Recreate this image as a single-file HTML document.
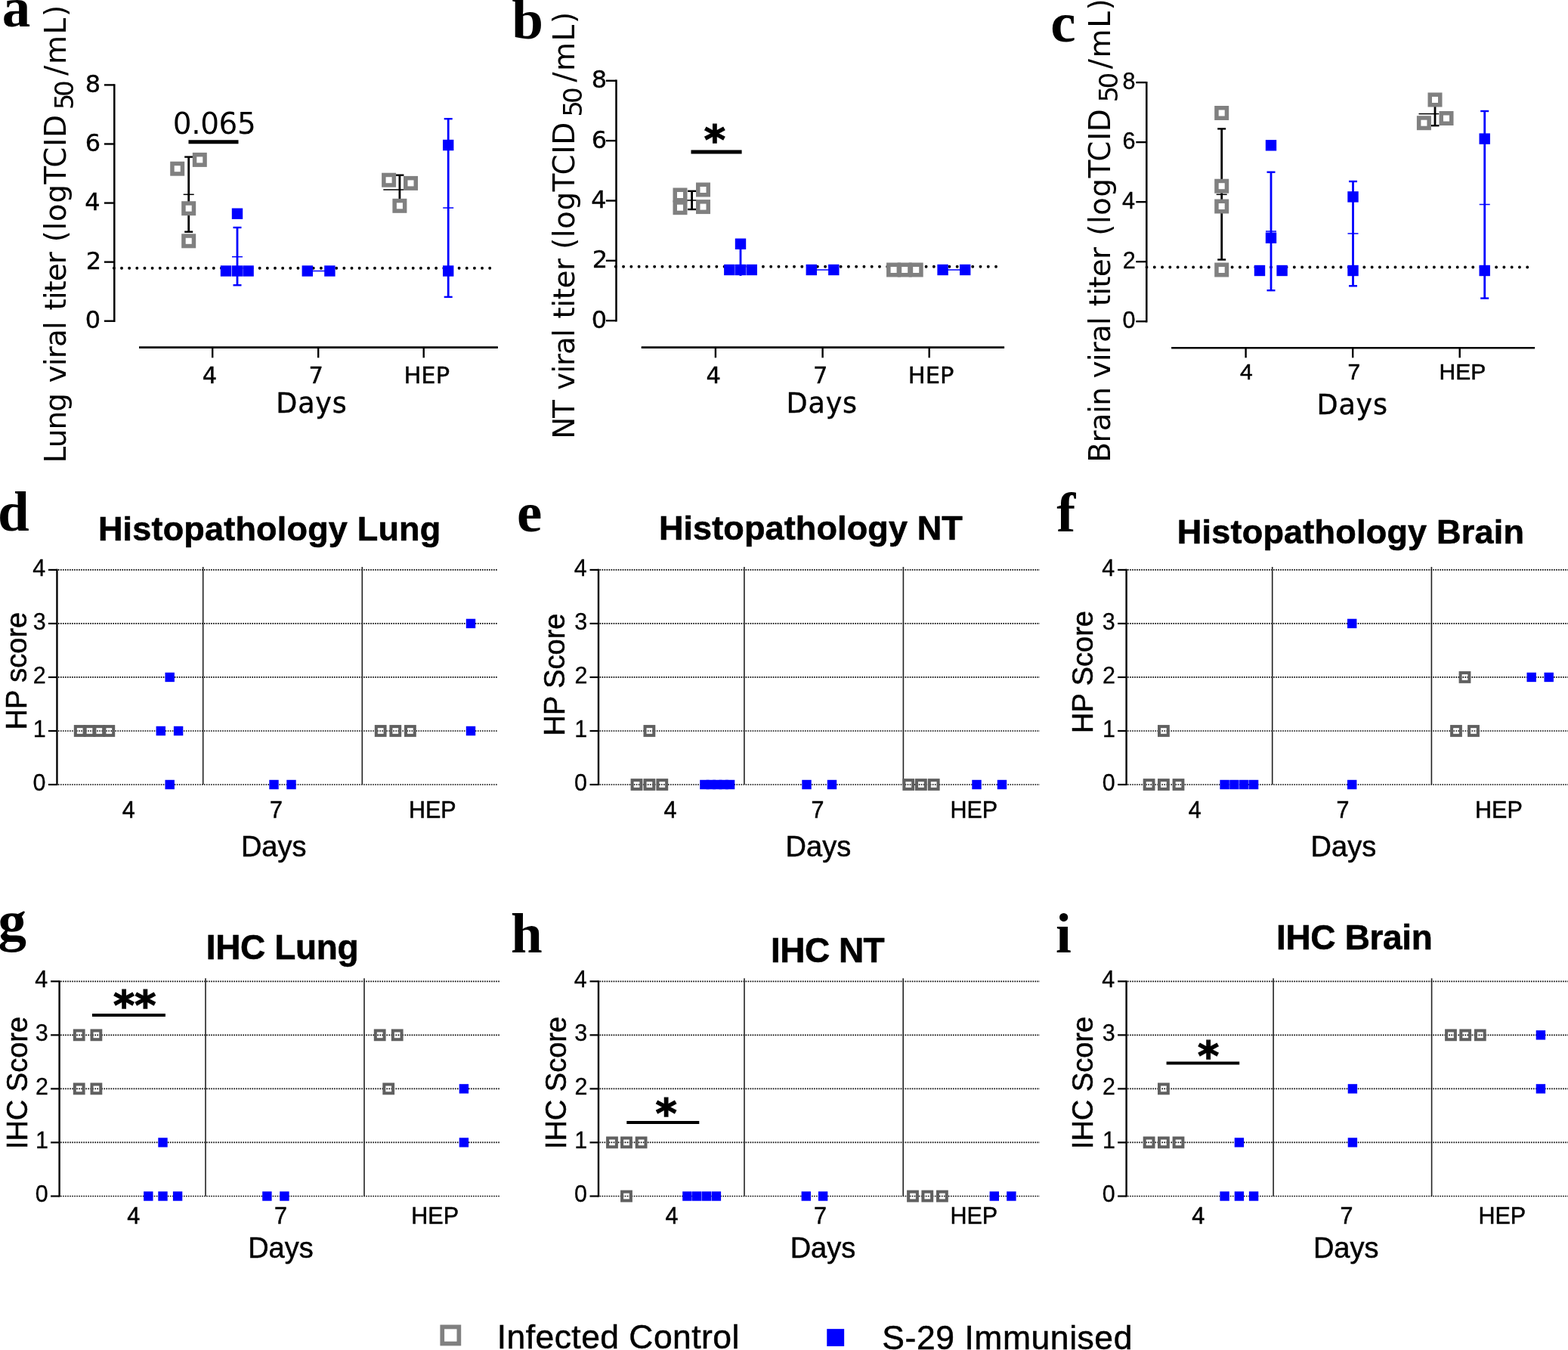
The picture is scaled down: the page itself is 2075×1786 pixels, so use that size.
<!DOCTYPE html>
<html lang="en"><head><meta charset="utf-8"><title>Figure</title>
<style>
html,body{margin:0;padding:0;background:#fff;}
body{width:2075px;height:1786px;overflow:hidden;}
svg{display:block;}
text{fill:#000;white-space:pre;}
.dj{font-family:"DejaVu Sans","Liberation Sans",sans-serif;}
.ls{font-family:"Liberation Sans","DejaVu Sans",sans-serif;}
.ser{font-family:"Liberation Serif","DejaVu Serif",serif;}
.b{font-weight:bold;}
</style></head><body>
<svg width="2075" height="1786" viewBox="0 0 2075 1786" role="img" aria-label="Viral titers, histopathology and IHC scores">
<rect width="2075" height="1786" fill="#fff"/>
<text x="2.73" y="35.45" font-size="75" text-anchor="start" class="ser b" >a</text>
<line x1="151.30" y1="111.20" x2="151.30" y2="425.90" stroke="#000" stroke-width="2.5" />
<line x1="137.90" y1="424.70" x2="151.30" y2="424.70" stroke="#000" stroke-width="2.4" />
<text x="112.70" y="433.80" font-size="32" text-anchor="start" class="dj" stroke="#000" stroke-width="0.35" >0</text>
<line x1="137.90" y1="346.62" x2="151.30" y2="346.62" stroke="#000" stroke-width="2.4" />
<text x="113.74" y="355.73" font-size="32" text-anchor="start" class="dj" stroke="#000" stroke-width="0.35" >2</text>
<line x1="137.90" y1="268.55" x2="151.30" y2="268.55" stroke="#000" stroke-width="2.4" />
<text x="112.35" y="277.65" font-size="32" text-anchor="start" class="dj" stroke="#000" stroke-width="0.35" >4</text>
<line x1="137.90" y1="190.48" x2="151.30" y2="190.48" stroke="#000" stroke-width="2.4" />
<text x="112.63" y="199.58" font-size="32" text-anchor="start" class="dj" stroke="#000" stroke-width="0.35" >6</text>
<line x1="137.90" y1="112.40" x2="151.30" y2="112.40" stroke="#000" stroke-width="2.4" />
<text x="112.81" y="121.50" font-size="32" text-anchor="start" class="dj" stroke="#000" stroke-width="0.35" >8</text>
<line x1="184.00" y1="459.60" x2="658.90" y2="459.60" stroke="#000" stroke-width="2.6" />
<line x1="281.20" y1="459.60" x2="281.20" y2="473.30" stroke="#000" stroke-width="2.4" />
<line x1="421.20" y1="459.60" x2="421.20" y2="473.30" stroke="#000" stroke-width="2.4" />
<line x1="560.70" y1="459.60" x2="560.70" y2="473.30" stroke="#000" stroke-width="2.4" />
<text x="267.75" y="506.60" font-size="30.5" text-anchor="start" class="dj" stroke="#000" stroke-width="0.4" >4</text>
<text x="408.42" y="506.60" font-size="30.5" text-anchor="start" class="dj" stroke="#000" stroke-width="0.4" >7</text>
<text x="534.44" y="506.60" font-size="30.5" text-anchor="start" class="dj" stroke="#000" stroke-width="0.4" >HEP</text>
<text x="365.18" y="545.70" font-size="36.5" text-anchor="start" class="dj" letter-spacing="0.849" stroke="#000" stroke-width="0.4" >Days</text>
<text transform="translate(86.60 612.53) rotate(-90)" font-size="39" text-anchor="start" class="dj" letter-spacing="-0.858" >Lung</text>
<text transform="translate(86.60 506.46) rotate(-90)" font-size="39" text-anchor="start" class="dj" letter-spacing="-0.835" >viral</text>
<text transform="translate(86.60 410.56) rotate(-90)" font-size="39" text-anchor="start" class="dj" letter-spacing="-1.037" >titer</text>
<text transform="translate(86.60 320.19) rotate(-90)" font-size="39" text-anchor="start" class="dj" letter-spacing="0.471" >(logTCID</text>
<text transform="translate(86.60 99.90) rotate(-90)" font-size="39" text-anchor="start" class="dj" letter-spacing="1.676" >/mL)</text>
<text transform="translate(96.80 145.36) rotate(-90)" font-size="34.4" text-anchor="start" class="dj" letter-spacing="-4.502" >50</text>
<line x1="150.85" y1="354.70" x2="648.30" y2="354.70" stroke="#000" stroke-width="3.9" stroke-dasharray="0.01 10.140" stroke-linecap="round"/>
<text x="677.25" y="51.33" font-size="75" text-anchor="start" class="ser b" >b</text>
<line x1="815.50" y1="105.60" x2="815.50" y2="425.40" stroke="#000" stroke-width="2.5" />
<line x1="801.85" y1="424.20" x2="815.50" y2="424.20" stroke="#000" stroke-width="2.4" />
<text x="782.70" y="433.80" font-size="32" text-anchor="start" class="dj" stroke="#000" stroke-width="0.35" >0</text>
<line x1="801.85" y1="344.85" x2="815.50" y2="344.85" stroke="#000" stroke-width="2.4" />
<text x="783.74" y="354.45" font-size="32" text-anchor="start" class="dj" stroke="#000" stroke-width="0.35" >2</text>
<line x1="801.85" y1="265.50" x2="815.50" y2="265.50" stroke="#000" stroke-width="2.4" />
<text x="782.35" y="275.10" font-size="32" text-anchor="start" class="dj" stroke="#000" stroke-width="0.35" >4</text>
<line x1="801.85" y1="186.15" x2="815.50" y2="186.15" stroke="#000" stroke-width="2.4" />
<text x="782.63" y="195.75" font-size="32" text-anchor="start" class="dj" stroke="#000" stroke-width="0.35" >6</text>
<line x1="801.85" y1="106.80" x2="815.50" y2="106.80" stroke="#000" stroke-width="2.4" />
<text x="782.81" y="116.40" font-size="32" text-anchor="start" class="dj" stroke="#000" stroke-width="0.35" >8</text>
<line x1="848.70" y1="459.60" x2="1329.10" y2="459.60" stroke="#000" stroke-width="2.6" />
<line x1="946.90" y1="459.60" x2="946.90" y2="473.30" stroke="#000" stroke-width="2.4" />
<line x1="1088.60" y1="459.60" x2="1088.60" y2="473.30" stroke="#000" stroke-width="2.4" />
<line x1="1229.70" y1="459.60" x2="1229.70" y2="473.30" stroke="#000" stroke-width="2.4" />
<text x="934.45" y="506.70" font-size="30.5" text-anchor="start" class="dj" stroke="#000" stroke-width="0.4" >4</text>
<text x="1075.92" y="506.70" font-size="30.5" text-anchor="start" class="dj" stroke="#000" stroke-width="0.4" >7</text>
<text x="1201.74" y="506.70" font-size="30.5" text-anchor="start" class="dj" stroke="#000" stroke-width="0.4" >HEP</text>
<text x="1040.58" y="546.00" font-size="36.5" text-anchor="start" class="dj" letter-spacing="0.816" stroke="#000" stroke-width="0.4" >Days</text>
<text transform="translate(760.10 580.73) rotate(-90)" font-size="39" text-anchor="start" class="dj" letter-spacing="-1.361" >NT</text>
<text transform="translate(760.10 515.96) rotate(-90)" font-size="39" text-anchor="start" class="dj" letter-spacing="-0.960" >viral</text>
<text transform="translate(760.10 421.46) rotate(-90)" font-size="39" text-anchor="start" class="dj" letter-spacing="-0.512" >titer</text>
<text transform="translate(760.10 329.79) rotate(-90)" font-size="39" text-anchor="start" class="dj" letter-spacing="0.428" >(logTCID</text>
<text transform="translate(760.10 108.80) rotate(-90)" font-size="39" text-anchor="start" class="dj" letter-spacing="1.610" >/mL)</text>
<text transform="translate(770.20 154.76) rotate(-90)" font-size="34.4" text-anchor="start" class="dj" letter-spacing="-4.102" >50</text>
<line x1="814.80" y1="352.80" x2="1318.13" y2="352.80" stroke="#000" stroke-width="3.9" stroke-dasharray="0.01 10.260" stroke-linecap="round"/>
<text x="1390.30" y="54.53" font-size="75" text-anchor="start" class="ser b" >c</text>
<line x1="1517.30" y1="107.90" x2="1517.30" y2="426.40" stroke="#000" stroke-width="2.5" />
<line x1="1503.30" y1="425.20" x2="1517.30" y2="425.20" stroke="#000" stroke-width="2.4" />
<text x="1485.46" y="433.90" font-size="30.6" text-anchor="start" class="ls" stroke="#000" stroke-width="0.35" >0</text>
<line x1="1503.30" y1="346.17" x2="1517.30" y2="346.17" stroke="#000" stroke-width="2.4" />
<text x="1485.74" y="354.87" font-size="30.6" text-anchor="start" class="ls" stroke="#000" stroke-width="0.35" >2</text>
<line x1="1503.30" y1="267.15" x2="1517.30" y2="267.15" stroke="#000" stroke-width="2.4" />
<text x="1485.07" y="275.85" font-size="30.6" text-anchor="start" class="ls" stroke="#000" stroke-width="0.35" >4</text>
<line x1="1503.30" y1="188.12" x2="1517.30" y2="188.12" stroke="#000" stroke-width="2.4" />
<text x="1485.60" y="196.82" font-size="30.6" text-anchor="start" class="ls" stroke="#000" stroke-width="0.35" >6</text>
<line x1="1503.30" y1="109.10" x2="1517.30" y2="109.10" stroke="#000" stroke-width="2.4" />
<text x="1485.58" y="117.80" font-size="30.6" text-anchor="start" class="ls" stroke="#000" stroke-width="0.35" >8</text>
<line x1="1550.10" y1="460.20" x2="2031.10" y2="460.20" stroke="#000" stroke-width="2.6" />
<line x1="1648.60" y1="460.20" x2="1648.60" y2="473.30" stroke="#000" stroke-width="2.4" />
<line x1="1790.20" y1="460.20" x2="1790.20" y2="473.30" stroke="#000" stroke-width="2.4" />
<line x1="1931.70" y1="460.20" x2="1931.70" y2="473.30" stroke="#000" stroke-width="2.4" />
<text x="1641.00" y="501.50" font-size="30" text-anchor="start" class="ls" stroke="#000" stroke-width="0.5" >4</text>
<text x="1783.52" y="501.50" font-size="30" text-anchor="start" class="ls" stroke="#000" stroke-width="0.5" >7</text>
<text x="1904.51" y="501.50" font-size="30" text-anchor="start" class="ls" stroke="#000" stroke-width="0.5" >HEP</text>
<text x="1742.48" y="547.90" font-size="36.5" text-anchor="start" class="dj" letter-spacing="0.816" stroke="#000" stroke-width="0.4" >Days</text>
<text transform="translate(1469.00 611.63) rotate(-90)" font-size="39" text-anchor="start" class="dj" letter-spacing="-0.666" >Brain</text>
<text transform="translate(1469.00 500.56) rotate(-90)" font-size="39" text-anchor="start" class="dj" letter-spacing="-0.810" >viral</text>
<text transform="translate(1469.00 405.16) rotate(-90)" font-size="39" text-anchor="start" class="dj" letter-spacing="-0.812" >titer</text>
<text transform="translate(1469.00 311.69) rotate(-90)" font-size="39" text-anchor="start" class="dj" letter-spacing="0.371" >(logTCID</text>
<text transform="translate(1469.00 91.20) rotate(-90)" font-size="39" text-anchor="start" class="dj" letter-spacing="1.643" >/mL)</text>
<text transform="translate(1478.50 135.46) rotate(-90)" font-size="34.4" text-anchor="start" class="dj" letter-spacing="-3.902" >50</text>
<line x1="1517.50" y1="353.50" x2="2021.32" y2="353.50" stroke="#000" stroke-width="3.9" stroke-dasharray="0.01 10.270" stroke-linecap="round"/>
<line x1="249.70" y1="207.60" x2="249.70" y2="306.70" stroke="#000" stroke-width="2.8" />
<line x1="244.20" y1="207.60" x2="255.20" y2="207.60" stroke="#000" stroke-width="2.4" />
<line x1="244.20" y1="306.70" x2="255.20" y2="306.70" stroke="#000" stroke-width="2.4" />
<line x1="242.70" y1="257.30" x2="256.70" y2="257.30" stroke="#000" stroke-width="1.5" />
<rect x="227.95" y="216.45" width="13.5" height="13.5" fill="#fff" stroke="#808080" stroke-width="5.5"/>
<rect x="257.55" y="204.65" width="13.5" height="13.5" fill="#fff" stroke="#808080" stroke-width="5.5"/>
<rect x="242.95" y="268.95" width="13.5" height="13.5" fill="#fff" stroke="#808080" stroke-width="5.5"/>
<rect x="242.95" y="312.05" width="13.5" height="13.5" fill="#fff" stroke="#808080" stroke-width="5.5"/>
<line x1="314.00" y1="301.00" x2="314.00" y2="377.30" stroke="#0000ff" stroke-width="2.8" />
<line x1="308.50" y1="301.00" x2="319.50" y2="301.00" stroke="#0000ff" stroke-width="2.4" />
<line x1="308.50" y1="377.30" x2="319.50" y2="377.30" stroke="#0000ff" stroke-width="2.4" />
<line x1="307.00" y1="339.70" x2="321.00" y2="339.70" stroke="#0000ff" stroke-width="1.5" />
<rect x="306.80" y="275.50" width="14.4" height="14.4" fill="#0000ff"/>
<rect x="291.80" y="351.30" width="14.4" height="14.4" fill="#0000ff"/>
<rect x="306.80" y="351.30" width="14.4" height="14.4" fill="#0000ff"/>
<rect x="321.40" y="351.30" width="14.4" height="14.4" fill="#0000ff"/>
<line x1="406.80" y1="358.50" x2="436.40" y2="358.50" stroke="#0000ff" stroke-width="1.5" />
<rect x="399.60" y="351.30" width="14.4" height="14.4" fill="#0000ff"/>
<rect x="429.20" y="351.30" width="14.4" height="14.4" fill="#0000ff"/>
<line x1="528.90" y1="231.70" x2="528.90" y2="269.70" stroke="#000" stroke-width="2.8" />
<line x1="523.40" y1="231.70" x2="534.40" y2="231.70" stroke="#000" stroke-width="2.4" />
<line x1="523.40" y1="269.70" x2="534.40" y2="269.70" stroke="#000" stroke-width="2.4" />
<line x1="507.30" y1="251.00" x2="534.00" y2="251.00" stroke="#000" stroke-width="1.5" />
<rect x="507.85" y="231.45" width="13.5" height="13.5" fill="#fff" stroke="#808080" stroke-width="5.5"/>
<rect x="536.75" y="235.65" width="13.5" height="13.5" fill="#fff" stroke="#808080" stroke-width="5.5"/>
<rect x="522.15" y="265.55" width="13.5" height="13.5" fill="#fff" stroke="#808080" stroke-width="5.5"/>
<line x1="593.20" y1="157.20" x2="593.20" y2="392.90" stroke="#0000ff" stroke-width="2.8" />
<line x1="587.70" y1="157.20" x2="598.70" y2="157.20" stroke="#0000ff" stroke-width="2.4" />
<line x1="587.70" y1="392.90" x2="598.70" y2="392.90" stroke="#0000ff" stroke-width="2.4" />
<line x1="586.20" y1="275.00" x2="600.20" y2="275.00" stroke="#0000ff" stroke-width="1.5" />
<rect x="586.00" y="184.80" width="14.4" height="14.4" fill="#0000ff"/>
<rect x="586.00" y="351.30" width="14.4" height="14.4" fill="#0000ff"/>
<text x="228.81" y="176.50" font-size="39" text-anchor="start" class="dj" letter-spacing="-0.401" >0.065</text>
<line x1="249.50" y1="187.80" x2="315.50" y2="187.80" stroke="#000" stroke-width="5" />
<line x1="915.60" y1="252.80" x2="915.60" y2="277.00" stroke="#000" stroke-width="2.8" />
<line x1="910.10" y1="252.80" x2="921.10" y2="252.80" stroke="#000" stroke-width="2.4" />
<line x1="910.10" y1="277.00" x2="921.10" y2="277.00" stroke="#000" stroke-width="2.4" />
<line x1="908.60" y1="265.00" x2="922.60" y2="265.00" stroke="#000" stroke-width="1.5" />
<rect x="893.25" y="251.25" width="13.5" height="13.5" fill="#fff" stroke="#808080" stroke-width="5.5"/>
<rect x="923.75" y="244.25" width="13.5" height="13.5" fill="#fff" stroke="#808080" stroke-width="5.5"/>
<rect x="893.25" y="267.95" width="13.5" height="13.5" fill="#fff" stroke="#808080" stroke-width="5.5"/>
<rect x="923.75" y="266.85" width="13.5" height="13.5" fill="#fff" stroke="#808080" stroke-width="5.5"/>
<line x1="980.00" y1="322.70" x2="980.00" y2="365.00" stroke="#0000ff" stroke-width="2.8" />
<rect x="972.80" y="315.50" width="14.4" height="14.4" fill="#0000ff"/>
<rect x="958.10" y="349.80" width="14.4" height="14.4" fill="#0000ff"/>
<rect x="972.80" y="349.80" width="14.4" height="14.4" fill="#0000ff"/>
<rect x="987.60" y="349.80" width="14.4" height="14.4" fill="#0000ff"/>
<line x1="1073.80" y1="357.00" x2="1103.30" y2="357.00" stroke="#0000ff" stroke-width="1.5" />
<rect x="1066.60" y="349.80" width="14.4" height="14.4" fill="#0000ff"/>
<rect x="1096.10" y="349.80" width="14.4" height="14.4" fill="#0000ff"/>
<rect x="1175.85" y="350.25" width="13.5" height="13.5" fill="#fff" stroke="#808080" stroke-width="5.5"/>
<rect x="1190.45" y="350.25" width="13.5" height="13.5" fill="#fff" stroke="#808080" stroke-width="5.5"/>
<rect x="1205.45" y="350.25" width="13.5" height="13.5" fill="#fff" stroke="#808080" stroke-width="5.5"/>
<line x1="1247.60" y1="357.00" x2="1277.20" y2="357.00" stroke="#0000ff" stroke-width="1.5" />
<rect x="1240.40" y="349.80" width="14.4" height="14.4" fill="#0000ff"/>
<rect x="1270.00" y="349.80" width="14.4" height="14.4" fill="#0000ff"/>
<text x="931.69" y="203.60" font-size="54" text-anchor="start" class="dj b" stroke="#000" stroke-width="1.3" >*</text>
<line x1="914.50" y1="201.00" x2="981.60" y2="201.00" stroke="#000" stroke-width="5" />
<line x1="1616.70" y1="170.40" x2="1616.70" y2="343.50" stroke="#000" stroke-width="2.8" />
<line x1="1611.20" y1="170.40" x2="1622.20" y2="170.40" stroke="#000" stroke-width="2.4" />
<line x1="1611.20" y1="343.50" x2="1622.20" y2="343.50" stroke="#000" stroke-width="2.4" />
<line x1="1609.70" y1="257.30" x2="1623.70" y2="257.30" stroke="#000" stroke-width="1.5" />
<rect x="1609.95" y="142.75" width="13.5" height="13.5" fill="#fff" stroke="#808080" stroke-width="5.5"/>
<rect x="1609.95" y="239.45" width="13.5" height="13.5" fill="#fff" stroke="#808080" stroke-width="5.5"/>
<rect x="1609.95" y="266.25" width="13.5" height="13.5" fill="#fff" stroke="#808080" stroke-width="5.5"/>
<rect x="1609.95" y="350.25" width="13.5" height="13.5" fill="#fff" stroke="#808080" stroke-width="5.5"/>
<line x1="1682.00" y1="227.70" x2="1682.00" y2="384.20" stroke="#0000ff" stroke-width="2.8" />
<line x1="1676.50" y1="227.70" x2="1687.50" y2="227.70" stroke="#0000ff" stroke-width="2.4" />
<line x1="1676.50" y1="384.20" x2="1687.50" y2="384.20" stroke="#0000ff" stroke-width="2.4" />
<line x1="1675.00" y1="306.00" x2="1689.00" y2="306.00" stroke="#0000ff" stroke-width="1.5" />
<rect x="1674.80" y="185.10" width="14.4" height="14.4" fill="#0000ff"/>
<rect x="1674.80" y="307.50" width="14.4" height="14.4" fill="#0000ff"/>
<rect x="1659.80" y="350.80" width="14.4" height="14.4" fill="#0000ff"/>
<rect x="1689.40" y="350.80" width="14.4" height="14.4" fill="#0000ff"/>
<line x1="1790.50" y1="240.00" x2="1790.50" y2="378.30" stroke="#0000ff" stroke-width="2.8" />
<line x1="1785.00" y1="240.00" x2="1796.00" y2="240.00" stroke="#0000ff" stroke-width="2.4" />
<line x1="1785.00" y1="378.30" x2="1796.00" y2="378.30" stroke="#0000ff" stroke-width="2.4" />
<line x1="1783.50" y1="309.00" x2="1797.50" y2="309.00" stroke="#0000ff" stroke-width="1.5" />
<rect x="1783.30" y="253.20" width="14.4" height="14.4" fill="#0000ff"/>
<rect x="1783.30" y="350.80" width="14.4" height="14.4" fill="#0000ff"/>
<line x1="1899.00" y1="135.00" x2="1899.00" y2="166.20" stroke="#000" stroke-width="2.8" />
<line x1="1893.50" y1="135.00" x2="1904.50" y2="135.00" stroke="#000" stroke-width="2.4" />
<line x1="1893.50" y1="166.20" x2="1904.50" y2="166.20" stroke="#000" stroke-width="2.4" />
<line x1="1877.50" y1="150.60" x2="1904.20" y2="150.60" stroke="#000" stroke-width="1.5" />
<rect x="1892.25" y="125.25" width="13.5" height="13.5" fill="#fff" stroke="#808080" stroke-width="5.5"/>
<rect x="1877.65" y="155.95" width="13.5" height="13.5" fill="#fff" stroke="#808080" stroke-width="5.5"/>
<rect x="1907.25" y="149.75" width="13.5" height="13.5" fill="#fff" stroke="#808080" stroke-width="5.5"/>
<line x1="1964.70" y1="147.00" x2="1964.70" y2="394.60" stroke="#0000ff" stroke-width="2.8" />
<line x1="1959.20" y1="147.00" x2="1970.20" y2="147.00" stroke="#0000ff" stroke-width="2.4" />
<line x1="1959.20" y1="394.60" x2="1970.20" y2="394.60" stroke="#0000ff" stroke-width="2.4" />
<line x1="1957.70" y1="270.50" x2="1971.70" y2="270.50" stroke="#0000ff" stroke-width="1.5" />
<rect x="1957.50" y="176.40" width="14.4" height="14.4" fill="#0000ff"/>
<rect x="1957.50" y="350.80" width="14.4" height="14.4" fill="#0000ff"/>
<text x="-2.95" y="701.71" font-size="75" text-anchor="start" class="ser b" >d</text>
<text x="129.88" y="715.30" font-size="45" text-anchor="start" class="ls b" letter-spacing="0.193" stroke="#000" stroke-width="0.6" >Histopathology Lung</text>
<line x1="77.00" y1="1038.00" x2="659.00" y2="1038.00" stroke="#000" stroke-width="1.7" stroke-dasharray="1.6 1.416"/>
<line x1="77.00" y1="966.98" x2="659.00" y2="966.98" stroke="#000" stroke-width="1.7" stroke-dasharray="1.6 1.416"/>
<line x1="77.00" y1="895.95" x2="659.00" y2="895.95" stroke="#000" stroke-width="1.7" stroke-dasharray="1.6 1.416"/>
<line x1="77.00" y1="824.92" x2="659.00" y2="824.92" stroke="#000" stroke-width="1.7" stroke-dasharray="1.6 1.416"/>
<line x1="77.00" y1="753.90" x2="659.00" y2="753.90" stroke="#000" stroke-width="1.7" stroke-dasharray="1.6 1.416"/>
<line x1="268.70" y1="749.90" x2="268.70" y2="1038.00" stroke="#222" stroke-width="1.6" />
<line x1="479.30" y1="749.90" x2="479.30" y2="1038.00" stroke="#222" stroke-width="1.6" />
<line x1="75.45" y1="752.80" x2="75.45" y2="1039.10" stroke="#000" stroke-width="2.4" />
<line x1="63.95" y1="1038.00" x2="75.45" y2="1038.00" stroke="#000" stroke-width="2.2" />
<text x="43.55" y="1045.90" font-size="30.5" text-anchor="start" class="ls" stroke="#000" stroke-width="0.3" >0</text>
<line x1="63.95" y1="966.98" x2="75.45" y2="966.98" stroke="#000" stroke-width="2.2" />
<text x="43.79" y="974.88" font-size="30.5" text-anchor="start" class="ls" stroke="#000" stroke-width="0.3" >1</text>
<line x1="63.95" y1="895.95" x2="75.45" y2="895.95" stroke="#000" stroke-width="2.2" />
<text x="43.83" y="903.85" font-size="30.5" text-anchor="start" class="ls" stroke="#000" stroke-width="0.3" >2</text>
<line x1="63.95" y1="824.92" x2="75.45" y2="824.92" stroke="#000" stroke-width="2.2" />
<text x="43.70" y="832.82" font-size="30.5" text-anchor="start" class="ls" stroke="#000" stroke-width="0.3" >3</text>
<line x1="63.95" y1="753.90" x2="75.45" y2="753.90" stroke="#000" stroke-width="2.2" />
<text x="43.19" y="761.80" font-size="30.5" text-anchor="start" class="ls" stroke="#000" stroke-width="0.3" >4</text>
<text x="161.65" y="1082.20" font-size="30.5" text-anchor="start" class="ls" stroke="#000" stroke-width="0.5" >4</text>
<text x="357.00" y="1082.20" font-size="30.5" text-anchor="start" class="ls" stroke="#000" stroke-width="0.5" >7</text>
<text x="540.89" y="1082.20" font-size="30.5" text-anchor="start" class="ls" stroke="#000" stroke-width="0.5" >HEP</text>
<text x="318.88" y="1132.50" font-size="38" text-anchor="start" class="ls" stroke="#000" stroke-width="0.5" >Days</text>
<text transform="translate(34.80 887.60) rotate(-90)" font-size="38" text-anchor="middle" class="ls" stroke="#000" stroke-width="0.5" >HP score</text>
<rect x="99.83" y="961.10" width="11.75" height="11.75" fill="none" stroke="#606060" stroke-width="4.05"/>
<rect x="112.62" y="961.10" width="11.75" height="11.75" fill="none" stroke="#606060" stroke-width="4.05"/>
<rect x="125.43" y="961.10" width="11.75" height="11.75" fill="none" stroke="#606060" stroke-width="4.05"/>
<rect x="138.43" y="961.10" width="11.75" height="11.75" fill="none" stroke="#606060" stroke-width="4.05"/>
<rect x="497.82" y="961.10" width="11.75" height="11.75" fill="none" stroke="#606060" stroke-width="4.05"/>
<rect x="517.42" y="961.10" width="11.75" height="11.75" fill="none" stroke="#606060" stroke-width="4.05"/>
<rect x="537.02" y="961.10" width="11.75" height="11.75" fill="none" stroke="#606060" stroke-width="4.05"/>
<rect x="218.50" y="889.75" width="12.4" height="12.4" fill="#0000ff"/>
<rect x="206.60" y="960.77" width="12.4" height="12.4" fill="#0000ff"/>
<rect x="229.90" y="960.77" width="12.4" height="12.4" fill="#0000ff"/>
<rect x="218.50" y="1031.80" width="12.4" height="12.4" fill="#0000ff"/>
<rect x="356.30" y="1031.80" width="12.4" height="12.4" fill="#0000ff"/>
<rect x="379.30" y="1031.80" width="12.4" height="12.4" fill="#0000ff"/>
<rect x="616.80" y="818.72" width="12.4" height="12.4" fill="#0000ff"/>
<rect x="616.80" y="960.77" width="12.4" height="12.4" fill="#0000ff"/>
<text x="683.92" y="702.64" font-size="75" text-anchor="start" class="ser b" >e</text>
<text x="871.88" y="713.80" font-size="45" text-anchor="start" class="ls b" letter-spacing="0.119" stroke="#000" stroke-width="0.6" >Histopathology NT</text>
<line x1="793.55" y1="1038.00" x2="1376.00" y2="1038.00" stroke="#000" stroke-width="1.7" stroke-dasharray="1.6 1.416"/>
<line x1="793.55" y1="966.98" x2="1376.00" y2="966.98" stroke="#000" stroke-width="1.7" stroke-dasharray="1.6 1.416"/>
<line x1="793.55" y1="895.95" x2="1376.00" y2="895.95" stroke="#000" stroke-width="1.7" stroke-dasharray="1.6 1.416"/>
<line x1="793.55" y1="824.92" x2="1376.00" y2="824.92" stroke="#000" stroke-width="1.7" stroke-dasharray="1.6 1.416"/>
<line x1="793.55" y1="753.90" x2="1376.00" y2="753.90" stroke="#000" stroke-width="1.7" stroke-dasharray="1.6 1.416"/>
<line x1="984.90" y1="749.90" x2="984.90" y2="1038.00" stroke="#222" stroke-width="1.6" />
<line x1="1195.40" y1="749.90" x2="1195.40" y2="1038.00" stroke="#222" stroke-width="1.6" />
<line x1="792.00" y1="752.80" x2="792.00" y2="1039.10" stroke="#000" stroke-width="2.4" />
<line x1="780.50" y1="1038.00" x2="792.00" y2="1038.00" stroke="#000" stroke-width="2.2" />
<text x="760.10" y="1045.90" font-size="30.5" text-anchor="start" class="ls" stroke="#000" stroke-width="0.3" >0</text>
<line x1="780.50" y1="966.98" x2="792.00" y2="966.98" stroke="#000" stroke-width="2.2" />
<text x="760.34" y="974.88" font-size="30.5" text-anchor="start" class="ls" stroke="#000" stroke-width="0.3" >1</text>
<line x1="780.50" y1="895.95" x2="792.00" y2="895.95" stroke="#000" stroke-width="2.2" />
<text x="760.38" y="903.85" font-size="30.5" text-anchor="start" class="ls" stroke="#000" stroke-width="0.3" >2</text>
<line x1="780.50" y1="824.92" x2="792.00" y2="824.92" stroke="#000" stroke-width="2.2" />
<text x="760.25" y="832.82" font-size="30.5" text-anchor="start" class="ls" stroke="#000" stroke-width="0.3" >3</text>
<line x1="780.50" y1="753.90" x2="792.00" y2="753.90" stroke="#000" stroke-width="2.2" />
<text x="759.74" y="761.80" font-size="30.5" text-anchor="start" class="ls" stroke="#000" stroke-width="0.3" >4</text>
<text x="878.45" y="1082.20" font-size="30.5" text-anchor="start" class="ls" stroke="#000" stroke-width="0.5" >4</text>
<text x="1073.50" y="1082.20" font-size="30.5" text-anchor="start" class="ls" stroke="#000" stroke-width="0.5" >7</text>
<text x="1257.39" y="1082.20" font-size="30.5" text-anchor="start" class="ls" stroke="#000" stroke-width="0.5" >HEP</text>
<text x="1039.58" y="1132.50" font-size="38" text-anchor="start" class="ls" stroke="#000" stroke-width="0.5" >Days</text>
<text transform="translate(747.00 892.50) rotate(-90)" font-size="38" text-anchor="middle" class="ls" stroke="#000" stroke-width="0.5" >HP Score</text>
<rect x="853.52" y="961.10" width="11.75" height="11.75" fill="none" stroke="#606060" stroke-width="4.05"/>
<rect x="836.62" y="1032.12" width="11.75" height="11.75" fill="none" stroke="#606060" stroke-width="4.05"/>
<rect x="853.52" y="1032.12" width="11.75" height="11.75" fill="none" stroke="#606060" stroke-width="4.05"/>
<rect x="870.42" y="1032.12" width="11.75" height="11.75" fill="none" stroke="#606060" stroke-width="4.05"/>
<rect x="1196.42" y="1032.12" width="11.75" height="11.75" fill="none" stroke="#606060" stroke-width="4.05"/>
<rect x="1213.03" y="1032.12" width="11.75" height="11.75" fill="none" stroke="#606060" stroke-width="4.05"/>
<rect x="1229.83" y="1032.12" width="11.75" height="11.75" fill="none" stroke="#606060" stroke-width="4.05"/>
<rect x="926.20" y="1031.80" width="12.4" height="12.4" fill="#0000ff"/>
<rect x="934.60" y="1031.80" width="12.4" height="12.4" fill="#0000ff"/>
<rect x="943.10" y="1031.80" width="12.4" height="12.4" fill="#0000ff"/>
<rect x="951.50" y="1031.80" width="12.4" height="12.4" fill="#0000ff"/>
<rect x="959.90" y="1031.80" width="12.4" height="12.4" fill="#0000ff"/>
<rect x="1061.30" y="1031.80" width="12.4" height="12.4" fill="#0000ff"/>
<rect x="1094.80" y="1031.80" width="12.4" height="12.4" fill="#0000ff"/>
<rect x="1286.30" y="1031.80" width="12.4" height="12.4" fill="#0000ff"/>
<rect x="1319.80" y="1031.80" width="12.4" height="12.4" fill="#0000ff"/>
<text x="1398.15" y="702.80" font-size="75" text-anchor="start" class="ser b" >f</text>
<text x="1557.78" y="718.80" font-size="45" text-anchor="start" class="ls b" letter-spacing="0.222" stroke="#000" stroke-width="0.6" >Histopathology Brain</text>
<line x1="1492.15" y1="1038.00" x2="2075.00" y2="1038.00" stroke="#000" stroke-width="1.7" stroke-dasharray="1.6 1.416"/>
<line x1="1492.15" y1="966.98" x2="2075.00" y2="966.98" stroke="#000" stroke-width="1.7" stroke-dasharray="1.6 1.416"/>
<line x1="1492.15" y1="895.95" x2="2075.00" y2="895.95" stroke="#000" stroke-width="1.7" stroke-dasharray="1.6 1.416"/>
<line x1="1492.15" y1="824.92" x2="2075.00" y2="824.92" stroke="#000" stroke-width="1.7" stroke-dasharray="1.6 1.416"/>
<line x1="1492.15" y1="753.90" x2="2075.00" y2="753.90" stroke="#000" stroke-width="1.7" stroke-dasharray="1.6 1.416"/>
<line x1="1683.70" y1="749.90" x2="1683.70" y2="1038.00" stroke="#222" stroke-width="1.6" />
<line x1="1894.40" y1="749.90" x2="1894.40" y2="1038.00" stroke="#222" stroke-width="1.6" />
<line x1="1490.60" y1="752.80" x2="1490.60" y2="1039.10" stroke="#000" stroke-width="2.4" />
<line x1="1479.10" y1="1038.00" x2="1490.60" y2="1038.00" stroke="#000" stroke-width="2.2" />
<text x="1458.70" y="1045.90" font-size="30.5" text-anchor="start" class="ls" stroke="#000" stroke-width="0.3" >0</text>
<line x1="1479.10" y1="966.98" x2="1490.60" y2="966.98" stroke="#000" stroke-width="2.2" />
<text x="1458.94" y="974.88" font-size="30.5" text-anchor="start" class="ls" stroke="#000" stroke-width="0.3" >1</text>
<line x1="1479.10" y1="895.95" x2="1490.60" y2="895.95" stroke="#000" stroke-width="2.2" />
<text x="1458.98" y="903.85" font-size="30.5" text-anchor="start" class="ls" stroke="#000" stroke-width="0.3" >2</text>
<line x1="1479.10" y1="824.92" x2="1490.60" y2="824.92" stroke="#000" stroke-width="2.2" />
<text x="1458.85" y="832.82" font-size="30.5" text-anchor="start" class="ls" stroke="#000" stroke-width="0.3" >3</text>
<line x1="1479.10" y1="753.90" x2="1490.60" y2="753.90" stroke="#000" stroke-width="2.2" />
<text x="1458.34" y="761.80" font-size="30.5" text-anchor="start" class="ls" stroke="#000" stroke-width="0.3" >4</text>
<text x="1572.65" y="1082.20" font-size="30.5" text-anchor="start" class="ls" stroke="#000" stroke-width="0.5" >4</text>
<text x="1768.50" y="1082.20" font-size="30.5" text-anchor="start" class="ls" stroke="#000" stroke-width="0.5" >7</text>
<text x="1952.09" y="1082.20" font-size="30.5" text-anchor="start" class="ls" stroke="#000" stroke-width="0.5" >HEP</text>
<text x="1734.58" y="1132.50" font-size="38" text-anchor="start" class="ls" stroke="#000" stroke-width="0.5" >Days</text>
<text transform="translate(1446.00 889.00) rotate(-90)" font-size="38" text-anchor="middle" class="ls" stroke="#000" stroke-width="0.5" >HP Score</text>
<rect x="1534.03" y="961.10" width="11.75" height="11.75" fill="none" stroke="#606060" stroke-width="4.05"/>
<rect x="1514.72" y="1032.12" width="11.75" height="11.75" fill="none" stroke="#606060" stroke-width="4.05"/>
<rect x="1534.03" y="1032.12" width="11.75" height="11.75" fill="none" stroke="#606060" stroke-width="4.05"/>
<rect x="1553.62" y="1032.12" width="11.75" height="11.75" fill="none" stroke="#606060" stroke-width="4.05"/>
<rect x="1932.62" y="890.08" width="11.75" height="11.75" fill="none" stroke="#606060" stroke-width="4.05"/>
<rect x="1921.12" y="961.10" width="11.75" height="11.75" fill="none" stroke="#606060" stroke-width="4.05"/>
<rect x="1944.12" y="961.10" width="11.75" height="11.75" fill="none" stroke="#606060" stroke-width="4.05"/>
<rect x="1614.40" y="1031.80" width="12.4" height="12.4" fill="#0000ff"/>
<rect x="1627.20" y="1031.80" width="12.4" height="12.4" fill="#0000ff"/>
<rect x="1640.10" y="1031.80" width="12.4" height="12.4" fill="#0000ff"/>
<rect x="1652.90" y="1031.80" width="12.4" height="12.4" fill="#0000ff"/>
<rect x="1783.00" y="818.72" width="12.4" height="12.4" fill="#0000ff"/>
<rect x="1783.00" y="1031.80" width="12.4" height="12.4" fill="#0000ff"/>
<rect x="2020.50" y="889.75" width="12.4" height="12.4" fill="#0000ff"/>
<rect x="2043.50" y="889.75" width="12.4" height="12.4" fill="#0000ff"/>
<text x="-2.49" y="1243.80" font-size="75" text-anchor="start" class="ser b" >g</text>
<text x="272.82" y="1269.10" font-size="46" text-anchor="start" class="ls b" letter-spacing="-0.367" stroke="#000" stroke-width="0.6" >IHC Lung</text>
<line x1="80.15" y1="1582.50" x2="662.00" y2="1582.50" stroke="#000" stroke-width="1.7" stroke-dasharray="1.6 1.416"/>
<line x1="80.15" y1="1511.45" x2="662.00" y2="1511.45" stroke="#000" stroke-width="1.7" stroke-dasharray="1.6 1.416"/>
<line x1="80.15" y1="1440.40" x2="662.00" y2="1440.40" stroke="#000" stroke-width="1.7" stroke-dasharray="1.6 1.416"/>
<line x1="80.15" y1="1369.35" x2="662.00" y2="1369.35" stroke="#000" stroke-width="1.7" stroke-dasharray="1.6 1.416"/>
<line x1="80.15" y1="1298.30" x2="662.00" y2="1298.30" stroke="#000" stroke-width="1.7" stroke-dasharray="1.6 1.416"/>
<line x1="272.00" y1="1294.30" x2="272.00" y2="1582.50" stroke="#222" stroke-width="1.6" />
<line x1="482.00" y1="1294.30" x2="482.00" y2="1582.50" stroke="#222" stroke-width="1.6" />
<line x1="78.60" y1="1297.20" x2="78.60" y2="1583.60" stroke="#000" stroke-width="2.4" />
<line x1="67.10" y1="1582.50" x2="78.60" y2="1582.50" stroke="#000" stroke-width="2.2" />
<text x="46.70" y="1590.40" font-size="30.5" text-anchor="start" class="ls" stroke="#000" stroke-width="0.3" >0</text>
<line x1="67.10" y1="1511.45" x2="78.60" y2="1511.45" stroke="#000" stroke-width="2.2" />
<text x="46.94" y="1519.35" font-size="30.5" text-anchor="start" class="ls" stroke="#000" stroke-width="0.3" >1</text>
<line x1="67.10" y1="1440.40" x2="78.60" y2="1440.40" stroke="#000" stroke-width="2.2" />
<text x="46.98" y="1448.30" font-size="30.5" text-anchor="start" class="ls" stroke="#000" stroke-width="0.3" >2</text>
<line x1="67.10" y1="1369.35" x2="78.60" y2="1369.35" stroke="#000" stroke-width="2.2" />
<text x="46.85" y="1377.25" font-size="30.5" text-anchor="start" class="ls" stroke="#000" stroke-width="0.3" >3</text>
<line x1="67.10" y1="1298.30" x2="78.60" y2="1298.30" stroke="#000" stroke-width="2.2" />
<text x="46.34" y="1306.20" font-size="30.5" text-anchor="start" class="ls" stroke="#000" stroke-width="0.3" >4</text>
<text x="168.35" y="1618.70" font-size="30.5" text-anchor="start" class="ls" stroke="#000" stroke-width="0.5" >4</text>
<text x="363.10" y="1618.70" font-size="30.5" text-anchor="start" class="ls" stroke="#000" stroke-width="0.5" >7</text>
<text x="544.29" y="1618.70" font-size="30.5" text-anchor="start" class="ls" stroke="#000" stroke-width="0.5" >HEP</text>
<text x="328.18" y="1664.00" font-size="38" text-anchor="start" class="ls" stroke="#000" stroke-width="0.5" >Days</text>
<text transform="translate(36.40 1432.50) rotate(-90)" font-size="38" text-anchor="middle" class="ls" stroke="#000" stroke-width="0.5" >IHC Score</text>
<rect x="98.83" y="1363.47" width="11.75" height="11.75" fill="none" stroke="#606060" stroke-width="4.05"/>
<rect x="121.53" y="1363.47" width="11.75" height="11.75" fill="none" stroke="#606060" stroke-width="4.05"/>
<rect x="98.83" y="1434.53" width="11.75" height="11.75" fill="none" stroke="#606060" stroke-width="4.05"/>
<rect x="121.53" y="1434.53" width="11.75" height="11.75" fill="none" stroke="#606060" stroke-width="4.05"/>
<rect x="496.82" y="1363.47" width="11.75" height="11.75" fill="none" stroke="#606060" stroke-width="4.05"/>
<rect x="519.83" y="1363.47" width="11.75" height="11.75" fill="none" stroke="#606060" stroke-width="4.05"/>
<rect x="508.33" y="1434.53" width="11.75" height="11.75" fill="none" stroke="#606060" stroke-width="4.05"/>
<rect x="209.30" y="1505.25" width="12.4" height="12.4" fill="#0000ff"/>
<rect x="190.10" y="1576.30" width="12.4" height="12.4" fill="#0000ff"/>
<rect x="209.30" y="1576.30" width="12.4" height="12.4" fill="#0000ff"/>
<rect x="228.90" y="1576.30" width="12.4" height="12.4" fill="#0000ff"/>
<rect x="347.20" y="1576.30" width="12.4" height="12.4" fill="#0000ff"/>
<rect x="370.20" y="1576.30" width="12.4" height="12.4" fill="#0000ff"/>
<rect x="607.70" y="1434.20" width="12.4" height="12.4" fill="#0000ff"/>
<rect x="607.70" y="1505.25" width="12.4" height="12.4" fill="#0000ff"/>
<text x="150.12" y="1349.20" font-size="54" text-anchor="start" class="dj b" stroke="#000" stroke-width="1.3" >**</text>
<line x1="122.00" y1="1343.00" x2="218.90" y2="1343.00" stroke="#000" stroke-width="4" />
<text x="675.93" y="1259.80" font-size="75" text-anchor="start" class="ser b" >h</text>
<text x="1020.12" y="1273.00" font-size="46" text-anchor="start" class="ls b" letter-spacing="-0.556" stroke="#000" stroke-width="0.6" >IHC NT</text>
<line x1="793.55" y1="1582.50" x2="1376.00" y2="1582.50" stroke="#000" stroke-width="1.7" stroke-dasharray="1.6 1.416"/>
<line x1="793.55" y1="1511.45" x2="1376.00" y2="1511.45" stroke="#000" stroke-width="1.7" stroke-dasharray="1.6 1.416"/>
<line x1="793.55" y1="1440.40" x2="1376.00" y2="1440.40" stroke="#000" stroke-width="1.7" stroke-dasharray="1.6 1.416"/>
<line x1="793.55" y1="1369.35" x2="1376.00" y2="1369.35" stroke="#000" stroke-width="1.7" stroke-dasharray="1.6 1.416"/>
<line x1="793.55" y1="1298.30" x2="1376.00" y2="1298.30" stroke="#000" stroke-width="1.7" stroke-dasharray="1.6 1.416"/>
<line x1="985.00" y1="1294.30" x2="985.00" y2="1582.50" stroke="#222" stroke-width="1.6" />
<line x1="1195.20" y1="1294.30" x2="1195.20" y2="1582.50" stroke="#222" stroke-width="1.6" />
<line x1="792.00" y1="1297.20" x2="792.00" y2="1583.60" stroke="#000" stroke-width="2.4" />
<line x1="780.50" y1="1582.50" x2="792.00" y2="1582.50" stroke="#000" stroke-width="2.2" />
<text x="760.10" y="1590.40" font-size="30.5" text-anchor="start" class="ls" stroke="#000" stroke-width="0.3" >0</text>
<line x1="780.50" y1="1511.45" x2="792.00" y2="1511.45" stroke="#000" stroke-width="2.2" />
<text x="760.34" y="1519.35" font-size="30.5" text-anchor="start" class="ls" stroke="#000" stroke-width="0.3" >1</text>
<line x1="780.50" y1="1440.40" x2="792.00" y2="1440.40" stroke="#000" stroke-width="2.2" />
<text x="760.38" y="1448.30" font-size="30.5" text-anchor="start" class="ls" stroke="#000" stroke-width="0.3" >2</text>
<line x1="780.50" y1="1369.35" x2="792.00" y2="1369.35" stroke="#000" stroke-width="2.2" />
<text x="760.25" y="1377.25" font-size="30.5" text-anchor="start" class="ls" stroke="#000" stroke-width="0.3" >3</text>
<line x1="780.50" y1="1298.30" x2="792.00" y2="1298.30" stroke="#000" stroke-width="2.2" />
<text x="759.74" y="1306.20" font-size="30.5" text-anchor="start" class="ls" stroke="#000" stroke-width="0.3" >4</text>
<text x="880.45" y="1618.70" font-size="30.5" text-anchor="start" class="ls" stroke="#000" stroke-width="0.5" >4</text>
<text x="1076.90" y="1618.70" font-size="30.5" text-anchor="start" class="ls" stroke="#000" stroke-width="0.5" >7</text>
<text x="1257.39" y="1618.70" font-size="30.5" text-anchor="start" class="ls" stroke="#000" stroke-width="0.5" >HEP</text>
<text x="1045.68" y="1664.00" font-size="38" text-anchor="start" class="ls" stroke="#000" stroke-width="0.5" >Days</text>
<text transform="translate(749.00 1432.50) rotate(-90)" font-size="38" text-anchor="middle" class="ls" stroke="#000" stroke-width="0.5" >IHC Score</text>
<rect x="804.12" y="1505.58" width="11.75" height="11.75" fill="none" stroke="#606060" stroke-width="4.05"/>
<rect x="823.12" y="1505.58" width="11.75" height="11.75" fill="none" stroke="#606060" stroke-width="4.05"/>
<rect x="842.73" y="1505.58" width="11.75" height="11.75" fill="none" stroke="#606060" stroke-width="4.05"/>
<rect x="823.12" y="1576.62" width="11.75" height="11.75" fill="none" stroke="#606060" stroke-width="4.05"/>
<rect x="1202.12" y="1576.62" width="11.75" height="11.75" fill="none" stroke="#606060" stroke-width="4.05"/>
<rect x="1221.42" y="1576.62" width="11.75" height="11.75" fill="none" stroke="#606060" stroke-width="4.05"/>
<rect x="1241.03" y="1576.62" width="11.75" height="11.75" fill="none" stroke="#606060" stroke-width="4.05"/>
<rect x="903.20" y="1576.30" width="12.4" height="12.4" fill="#0000ff"/>
<rect x="916.00" y="1576.30" width="12.4" height="12.4" fill="#0000ff"/>
<rect x="928.80" y="1576.30" width="12.4" height="12.4" fill="#0000ff"/>
<rect x="941.70" y="1576.30" width="12.4" height="12.4" fill="#0000ff"/>
<rect x="1060.60" y="1576.30" width="12.4" height="12.4" fill="#0000ff"/>
<rect x="1082.90" y="1576.30" width="12.4" height="12.4" fill="#0000ff"/>
<rect x="1309.60" y="1576.30" width="12.4" height="12.4" fill="#0000ff"/>
<rect x="1332.20" y="1576.30" width="12.4" height="12.4" fill="#0000ff"/>
<text x="867.59" y="1492.20" font-size="54" text-anchor="start" class="dj b" stroke="#000" stroke-width="1.3" >*</text>
<line x1="829.30" y1="1485.00" x2="925.30" y2="1485.00" stroke="#000" stroke-width="4" />
<text x="1397.06" y="1259.80" font-size="75" text-anchor="start" class="ser b" >i</text>
<text x="1689.02" y="1256.40" font-size="46" text-anchor="start" class="ls b" letter-spacing="-0.346" stroke="#000" stroke-width="0.6" >IHC Brain</text>
<line x1="1492.15" y1="1582.50" x2="2075.00" y2="1582.50" stroke="#000" stroke-width="1.7" stroke-dasharray="1.6 1.416"/>
<line x1="1492.15" y1="1511.45" x2="2075.00" y2="1511.45" stroke="#000" stroke-width="1.7" stroke-dasharray="1.6 1.416"/>
<line x1="1492.15" y1="1440.40" x2="2075.00" y2="1440.40" stroke="#000" stroke-width="1.7" stroke-dasharray="1.6 1.416"/>
<line x1="1492.15" y1="1369.35" x2="2075.00" y2="1369.35" stroke="#000" stroke-width="1.7" stroke-dasharray="1.6 1.416"/>
<line x1="1492.15" y1="1298.30" x2="2075.00" y2="1298.30" stroke="#000" stroke-width="1.7" stroke-dasharray="1.6 1.416"/>
<line x1="1685.10" y1="1294.30" x2="1685.10" y2="1582.50" stroke="#222" stroke-width="1.6" />
<line x1="1894.60" y1="1294.30" x2="1894.60" y2="1582.50" stroke="#222" stroke-width="1.6" />
<line x1="1490.60" y1="1297.20" x2="1490.60" y2="1583.60" stroke="#000" stroke-width="2.4" />
<line x1="1479.10" y1="1582.50" x2="1490.60" y2="1582.50" stroke="#000" stroke-width="2.2" />
<text x="1458.70" y="1590.40" font-size="30.5" text-anchor="start" class="ls" stroke="#000" stroke-width="0.3" >0</text>
<line x1="1479.10" y1="1511.45" x2="1490.60" y2="1511.45" stroke="#000" stroke-width="2.2" />
<text x="1458.94" y="1519.35" font-size="30.5" text-anchor="start" class="ls" stroke="#000" stroke-width="0.3" >1</text>
<line x1="1479.10" y1="1440.40" x2="1490.60" y2="1440.40" stroke="#000" stroke-width="2.2" />
<text x="1458.98" y="1448.30" font-size="30.5" text-anchor="start" class="ls" stroke="#000" stroke-width="0.3" >2</text>
<line x1="1479.10" y1="1369.35" x2="1490.60" y2="1369.35" stroke="#000" stroke-width="2.2" />
<text x="1458.85" y="1377.25" font-size="30.5" text-anchor="start" class="ls" stroke="#000" stroke-width="0.3" >3</text>
<line x1="1479.10" y1="1298.30" x2="1490.60" y2="1298.30" stroke="#000" stroke-width="2.2" />
<text x="1458.34" y="1306.20" font-size="30.5" text-anchor="start" class="ls" stroke="#000" stroke-width="0.3" >4</text>
<text x="1577.15" y="1618.70" font-size="30.5" text-anchor="start" class="ls" stroke="#000" stroke-width="0.5" >4</text>
<text x="1773.50" y="1618.70" font-size="30.5" text-anchor="start" class="ls" stroke="#000" stroke-width="0.5" >7</text>
<text x="1956.49" y="1618.70" font-size="30.5" text-anchor="start" class="ls" stroke="#000" stroke-width="0.5" >HEP</text>
<text x="1737.88" y="1664.00" font-size="38" text-anchor="start" class="ls" stroke="#000" stroke-width="0.5" >Days</text>
<text transform="translate(1446.00 1432.50) rotate(-90)" font-size="38" text-anchor="middle" class="ls" stroke="#000" stroke-width="0.5" >IHC Score</text>
<rect x="1534.03" y="1434.53" width="11.75" height="11.75" fill="none" stroke="#606060" stroke-width="4.05"/>
<rect x="1514.72" y="1505.58" width="11.75" height="11.75" fill="none" stroke="#606060" stroke-width="4.05"/>
<rect x="1534.03" y="1505.58" width="11.75" height="11.75" fill="none" stroke="#606060" stroke-width="4.05"/>
<rect x="1553.62" y="1505.58" width="11.75" height="11.75" fill="none" stroke="#606060" stroke-width="4.05"/>
<rect x="1914.12" y="1363.47" width="11.75" height="11.75" fill="none" stroke="#606060" stroke-width="4.05"/>
<rect x="1933.33" y="1363.47" width="11.75" height="11.75" fill="none" stroke="#606060" stroke-width="4.05"/>
<rect x="1952.92" y="1363.47" width="11.75" height="11.75" fill="none" stroke="#606060" stroke-width="4.05"/>
<rect x="1633.70" y="1505.25" width="12.4" height="12.4" fill="#0000ff"/>
<rect x="1614.40" y="1576.30" width="12.4" height="12.4" fill="#0000ff"/>
<rect x="1633.70" y="1576.30" width="12.4" height="12.4" fill="#0000ff"/>
<rect x="1652.90" y="1576.30" width="12.4" height="12.4" fill="#0000ff"/>
<rect x="1783.70" y="1434.20" width="12.4" height="12.4" fill="#0000ff"/>
<rect x="1783.70" y="1505.25" width="12.4" height="12.4" fill="#0000ff"/>
<rect x="2032.70" y="1363.15" width="12.4" height="12.4" fill="#0000ff"/>
<rect x="2032.70" y="1434.20" width="12.4" height="12.4" fill="#0000ff"/>
<text x="1584.89" y="1416.20" font-size="54" text-anchor="start" class="dj b" stroke="#000" stroke-width="1.3" >*</text>
<line x1="1543.60" y1="1406.40" x2="1640.20" y2="1406.40" stroke="#000" stroke-width="4" />
<rect x="585.25" y="1755.45" width="22.1" height="22.1" fill="#fff" stroke="#808080" stroke-width="5.7"/>
<text x="657.64" y="1783.90" font-size="44.5" text-anchor="start" class="ls" letter-spacing="0.444" stroke="#000" stroke-width="0.5" >Infected Control</text>
<rect x="1094.25" y="1758.15" width="22.9" height="22.9" fill="#0000ff"/>
<text x="1167.32" y="1785.20" font-size="44.5" text-anchor="start" class="ls" letter-spacing="0.546" stroke="#000" stroke-width="0.5" >S-29 Immunised</text>
</svg>
</body></html>
